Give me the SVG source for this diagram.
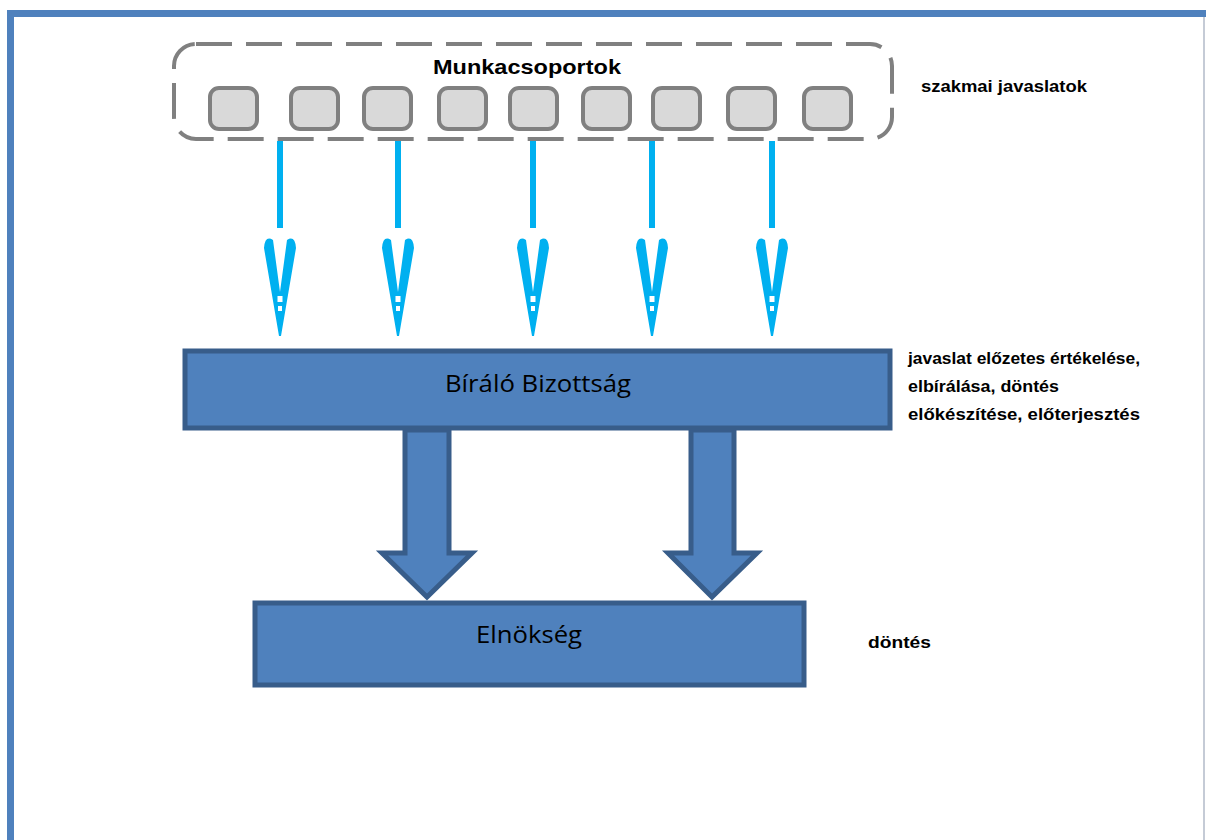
<svg xmlns="http://www.w3.org/2000/svg" width="1206" height="840" viewBox="0 0 1206 840">
<defs>
<style>
.frame{fill:#4f81bd}
.wg{fill:#d9d9d9;stroke:#808080;stroke-width:4}
.blk{fill:#4f81bd;stroke:#385d8a;stroke-width:5}
.feed{stroke:#00b0f0;stroke-width:6;fill:none}
.head{fill:#00b0f0}
.lbl{font-family:"Liberation Sans","Open Sans",sans-serif;font-weight:bold;font-size:17px;fill:#000}
.big{font-family:"Open Sans","Liberation Sans",sans-serif;font-size:23px;fill:#000;text-anchor:middle}
</style>
<symbol id="vhead" viewBox="-16 0 32 100" overflow="visible">
<path d="M-16,12 Q-15,-1 -7,4 L0,56 L7,4 Q15,-1 16,12 L1,100 L-1,100 Z"/>
<rect x="-2.5" y="60" width="5" height="6" fill="#fff"/>
<rect x="-2" y="70" width="4" height="5" fill="#fff"/>
</symbol>
</defs>
<rect width="1206" height="840" fill="#fff"/>
<g id="frame">
<rect class="frame" x="7" y="10" width="1199" height="7"/>
<rect class="frame" x="7" y="10" width="7" height="830"/>
<rect x="1203" y="17" width="2" height="823" fill="#c5cbd6"/>
</g>
<g id="munkacsoportok">
<rect x="174" y="44" width="718" height="95" rx="22" fill="none" stroke="#808080" stroke-width="4" stroke-dasharray="36 14"/>
<text x="527" y="74" text-anchor="middle" font-family="Liberation Sans, Open Sans, sans-serif" font-weight="bold" font-size="21" textLength="188" lengthAdjust="spacingAndGlyphs">Munkacsoportok</text>
<rect class="wg" x="210" y="88" width="47" height="41" rx="9"/>
<rect class="wg" x="291" y="88" width="47" height="41" rx="9"/>
<rect class="wg" x="364" y="88" width="47" height="41" rx="9"/>
<rect class="wg" x="439" y="88" width="47" height="41" rx="9"/>
<rect class="wg" x="510" y="88" width="47" height="41" rx="9"/>
<rect class="wg" x="583" y="88" width="47" height="41" rx="9"/>
<rect class="wg" x="653" y="88" width="47" height="41" rx="9"/>
<rect class="wg" x="728" y="88" width="47" height="41" rx="9"/>
<rect class="wg" x="804" y="88" width="47" height="41" rx="9"/>
</g>
<g id="connectors">
<line class="feed" x1="280" y1="141" x2="280" y2="228"/>
<line class="feed" x1="398" y1="141" x2="398" y2="228"/>
<line class="feed" x1="533" y1="141" x2="533" y2="228"/>
<line class="feed" x1="652" y1="141" x2="652" y2="228"/>
<line class="feed" x1="772" y1="141" x2="772" y2="228"/>
<use href="#vhead" class="head" x="264" y="236" width="32" height="100" fill="#00b0f0"/>
<use href="#vhead" class="head" x="382" y="236" width="32" height="100" fill="#00b0f0"/>
<use href="#vhead" class="head" x="517" y="236" width="32" height="100" fill="#00b0f0"/>
<use href="#vhead" class="head" x="636" y="236" width="32" height="100" fill="#00b0f0"/>
<use href="#vhead" class="head" x="756" y="236" width="32" height="100" fill="#00b0f0"/>
<path class="blk" d="M405,430 L449,430 L449,553 L472,553 L427,597 L382,553 L405,553 Z"/>
<path class="blk" d="M691,430 L734,430 L734,553 L757,553 L712,597 L668,553 L691,553 Z"/>
</g>
<g id="biralo">
<rect class="blk" x="185" y="351" width="705" height="77"/>
<text class="big" x="538" y="392" textLength="186" lengthAdjust="spacingAndGlyphs">Bíráló Bizottság</text>
</g>
<g id="elnokseg">
<rect class="blk" x="255" y="603" width="549" height="82"/>
<text class="big" x="529" y="643" textLength="106" lengthAdjust="spacingAndGlyphs">Elnökség</text>
</g>
<g id="notes">
<text class="lbl" x="921" y="92" textLength="166" lengthAdjust="spacingAndGlyphs">szakmai javaslatok</text>
<text class="lbl" x="908" y="364" textLength="232" lengthAdjust="spacingAndGlyphs">javaslat előzetes értékelése,</text>
<text class="lbl" x="908" y="392" textLength="151" lengthAdjust="spacingAndGlyphs">elbírálása, döntés</text>
<text class="lbl" x="908" y="420" textLength="232" lengthAdjust="spacingAndGlyphs">előkészítése, előterjesztés</text>
<text class="lbl" x="868" y="648" textLength="63" lengthAdjust="spacingAndGlyphs">döntés</text>
</g>
</svg>
